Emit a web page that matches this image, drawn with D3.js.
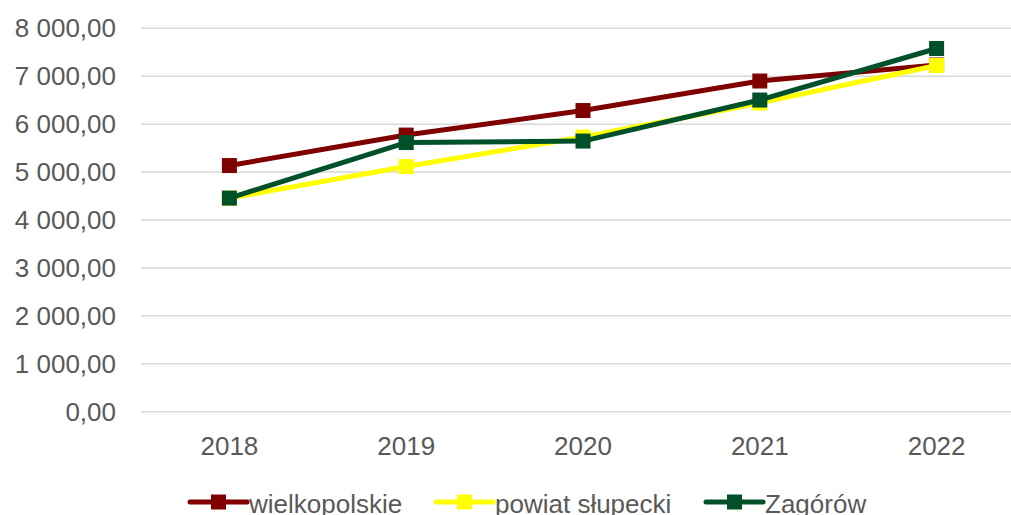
<!DOCTYPE html>
<html>
<head>
<meta charset="utf-8">
<script src="https://cdn.jsdelivr.net/npm/d3@7"></script>
<style>
  html, body { margin: 0; padding: 0; background: #fff; }
  svg { display: block; font-family: "Liberation Sans", Arial, sans-serif; }
</style>
</head>
<body>
<div id="chart"></div>
<script>
const years = ["2018", "2019", "2020", "2021", "2022"];
const wielkopolskie = [5136, 5772, 6284, 6900, 7234];
const powiatSlupecki = [4457, 5115, 5731, 6441, 7223];
const zagorow = [4457, 5616, 5647, 6503, 7578];
const yTicks = [0, 1000, 2000, 3000, 4000, 5000, 6000, 7000, 8000];

const series = [
  { name: "wielkopolskie", values: wielkopolskie, color: "#800000" },
  { name: "powiat słupecki", values: powiatSlupecki, color: "#FFFF00" },
  { name: "Zagórów", values: zagorow, color: "#00502A" }
];

const W = 1011, H = 515;
const pL = 141, pR = 1025, pT = 28.3, pB = 411.7;

const svg = d3.select("#chart").append("svg").attr("width", W).attr("height", H);

const xS = d3.scaleBand().domain(years).range([pL, pR]);
const yS = d3.scaleLinear().domain([0, 8000]).range([pB, pT]);

const fmt = v => {
  const s = d3.format(",.2f")(v);
  return s.replace(/,/g, " ").replace(".", ",");
};

// Grid lines + y labels
yTicks.forEach(t => {
  svg.append("line")
     .attr("x1", pL).attr("x2", pR).attr("y1", yS(t)).attr("y2", yS(t))
     .attr("stroke", "#d9d9d9").attr("stroke-width", 1.5);
  svg.append("text")
     .attr("x", 116).attr("y", yS(t) + 9).attr("text-anchor", "end")
     .attr("font-size", "26px").attr("fill", "#595959").text(fmt(t));
});

// x labels
years.forEach(y => {
  svg.append("text")
     .attr("x", xS(y) + xS.bandwidth() / 2).attr("y", 455).attr("text-anchor", "middle")
     .attr("font-size", "26px").attr("fill", "#595959").text(y);
});

const line = d3.line()
  .x((d, i) => xS(years[i]) + xS.bandwidth() / 2)
  .y(d => yS(d));

series.forEach(s => {
  svg.append("path").datum(s.values).attr("d", line).attr("fill", "none")
     .attr("stroke", s.color).attr("stroke-width", 5).attr("stroke-linejoin", "round");
  s.values.forEach((v, i) => {
    svg.append("rect")
       .attr("x", xS(years[i]) + xS.bandwidth() / 2 - 7.5).attr("y", yS(v) - 7.5)
       .attr("width", 15).attr("height", 15).attr("fill", s.color);
  });
});

// Legend
const legendX = [190, 436, 706];
series.forEach((s, i) => {
  const g = svg.append("g").attr("transform", `translate(${legendX[i]},502)`);
  g.append("line").attr("x1", 0).attr("x2", 57).attr("y1", 0).attr("y2", 0)
   .attr("stroke", s.color).attr("stroke-width", 5).attr("stroke-linecap", "round");
  g.append("rect").attr("x", 21).attr("y", -7.5).attr("width", 15).attr("height", 15).attr("fill", s.color);
  g.append("text").attr("x", 59).attr("y", 11).attr("font-size", "26px")
   .attr("fill", "#595959").text(s.name);
});
</script>
</body>
</html>
